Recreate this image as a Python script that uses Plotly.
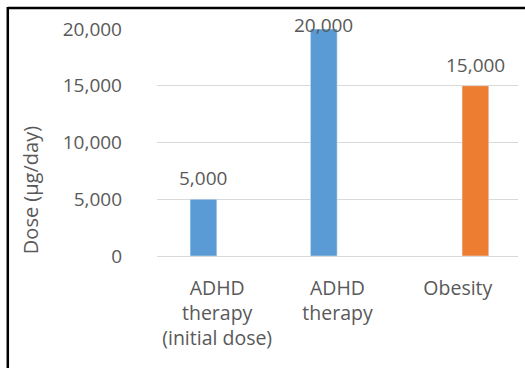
import plotly.graph_objects as go

# ---- data ----
categories = ["ADHD<br>therapy<br>(initial dose)", "ADHD<br>therapy", "Obesity"]
adhd_values = [5000, 20000, None]
obesity_values = [None, None, 15000]
y_ticks = [0, 5000, 10000, 15000, 20000]
y_tick_labels = ["0", "5,000", "10,000", "15,000", "20,000"]
y_title = "Dose (µg/day)"

# ---- style ----
W, H = 525, 368
ML, MR, MT, MB = 157, 7, 28.5, 112
BLUE = "#5B9BD5"
ORANGE = "#ED7D31"
TXT = "#595959"
GRID = "#D9D9D9"
FONT = "Open Sans"
BAR_W = 0.222
BLUE_OFF = -0.225
ORANGE_OFF = 0.035
LABEL_SHIFT = [21, 4, 21]   # pixel lift of data labels above bar tops

plot_w = W - ML - MR
plot_h = H - MT - MB
cat_px = plot_w / len(categories)

fig = go.Figure()
fig.add_trace(go.Bar(x=categories, y=adhd_values, marker_color=BLUE,
                     width=BAR_W, offset=BLUE_OFF, name="ADHD"))
fig.add_trace(go.Bar(x=categories, y=obesity_values, marker_color=ORANGE,
                     width=BAR_W, offset=ORANGE_OFF, name="Obesity"))

annotations = []
for series, off in ((adhd_values, BLUE_OFF), (obesity_values, ORANGE_OFF)):
    for i, (c, v) in enumerate(zip(categories, series)):
        if v is None:
            continue
        annotations.append(dict(
            x=c, y=v, xref="x", yref="y", text=f"{v:,}", showarrow=False,
            xshift=(off + BAR_W / 2) * cat_px, yshift=LABEL_SHIFT[i],
            yanchor="middle", xanchor="center",
            font=dict(family=FONT, size=19, color=TXT)))

# rotated axis title
annotations.append(dict(
    x=(30 - ML) / plot_w, y=(H - MB - 190) / plot_h, xref="paper", yref="paper",
    text=y_title, textangle=-90, showarrow=False, xanchor="center", yanchor="middle",
    font=dict(family=FONT, size=20, color=TXT)))

# frame lines (left and top)
lx = (7.8 - ML) / plot_w
ty = (H - MB - 7.5) / plot_h
shapes = [
    dict(type="line", xref="paper", yref="paper", x0=lx, x1=lx,
         y0=(H - MB - H - 2) / plot_h, y1=ty + 0.005, line=dict(color="black", width=2.5)),
    dict(type="line", xref="paper", yref="paper", x0=lx, x1=(W + 2 - ML) / plot_w,
         y0=ty, y1=ty, line=dict(color="black", width=2.5)),
]

fig.update_layout(
    width=W, height=H,
    margin=dict(l=ML, r=MR, t=MT, b=MB, pad=0),
    paper_bgcolor="white", plot_bgcolor="white",
    barmode="overlay", showlegend=False,
    annotations=annotations, shapes=shapes,
    font=dict(family=FONT, size=19, color=TXT),
    xaxis=dict(type="category", range=[-0.5, 2.5], showgrid=False, showline=False,
               ticks="", ticklabelstandoff=18,
               tickfont=dict(family=FONT, size=19.5, color=TXT)),
    yaxis=dict(range=[0, 20000], tickvals=y_ticks, ticktext=y_tick_labels,
               showgrid=True, gridcolor=GRID, gridwidth=1,
               zeroline=True, zerolinecolor=GRID, zerolinewidth=1,
               showline=False, ticks="", ticklabelstandoff=34,
               tickfont=dict(family=FONT, size=19, color=TXT)),
)

fig.write_html("out.html")
